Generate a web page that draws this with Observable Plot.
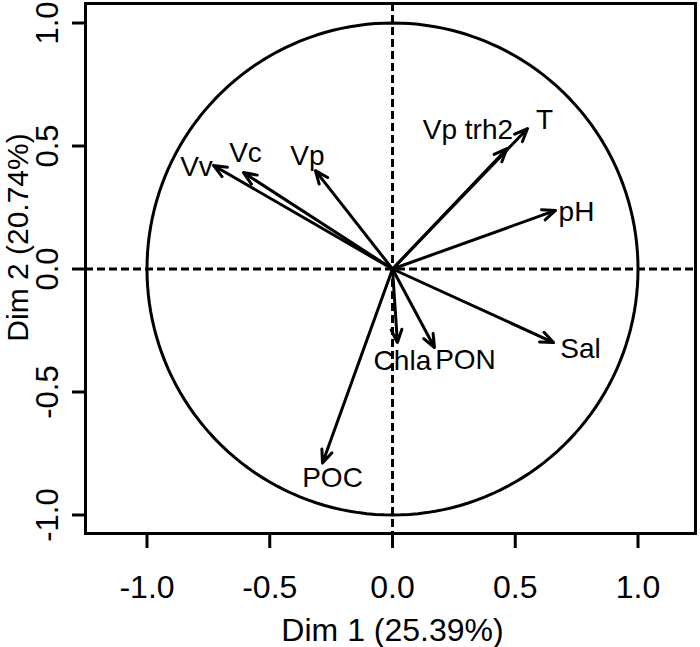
<!DOCTYPE html>
<html><head><meta charset="utf-8">
<script src="https://cdn.jsdelivr.net/npm/d3@7"></script>
<script src="https://cdn.jsdelivr.net/npm/@observablehq/plot@0.6"></script>
<style>html,body{margin:0;padding:0;background:#fff} svg{display:block}</style>
</head><body><div id="chart"></div>
<script>
// ---- data ----
const variables = ["Vv", "Vc", "Vp", "Vp trh2", "T", "pH", "Sal", "PON", "Chla", "POC"];
const dim1 = [-0.729, -0.607, -0.314, 0.466, 0.550, 0.664, 0.656, 0.171, 0.020, -0.285];
const dim2 = [0.421, 0.392, 0.400, 0.489, 0.571, 0.238, -0.299, -0.319, -0.299, -0.789];
const xTicks = [-1, -0.5, 0, 0.5, 1];
const yTicks = [-1, -0.5, 0, 0.5, 1];
const xTitle = "Dim 1 (25.39%)";
const yTitle = "Dim 2 (20.74%)";

// ---- layout: label offsets from arrow tips (px) ----
const labelOffsets = [[-17, 2], [2, -20], [-8, -15], [-39, -19], [17, -9], [21, 2], [27, 6], [31, 13], [5, 18], [10, 15]];

const rows = variables.map((name, i) => ({name, d1: dim1[i], d2: dim2[i], off: labelOffsets[i]}));
const circle = d3.range(0, 361, 2).map(a => ({cx: Math.cos(a * Math.PI / 180), cy: Math.sin(a * Math.PI / 180)}));

const SW = 3;
const labelMarks = rows.map(r => Plot.text([r], {
  x: "d1", y: "d2", text: "name", dx: r.off[0], dy: r.off[1],
  fontSize: 28, textAnchor: "middle", lineAnchor: "middle", fill: "black"
}));

const chart = Plot.plot({
  width: 700,
  height: 647,
  marginLeft: 85,
  marginRight: 5,
  marginTop: 3,
  marginBottom: 114,
  x: {domain: [-1.2505, 1.2342]},
  y: {domain: [-1.0752, 1.0793]},
  style: {fontFamily: "'Liberation Sans', Arial, Helvetica, sans-serif", background: "white", color: "black"},
  marks: [
    Plot.ruleX([0], {strokeDasharray: "8,4", strokeWidth: SW, stroke: "black"}),
    Plot.ruleY([0], {strokeDasharray: "8,4", strokeWidth: SW, stroke: "black"}),
    Plot.line(circle, {x: "cx", y: "cy", stroke: "black", strokeWidth: SW}),
    Plot.arrow(rows, {x1: d => 0, y1: d => 0, x2: "d1", y2: "d2", stroke: "black", strokeWidth: SW, headLength: 7, headAngle: 45}),
    ...labelMarks,
    Plot.frame({stroke: "black", strokeWidth: SW}),
    Plot.axisX({ticks: xTicks, tickSize: 15, tickPadding: 27, fontSize: 32, strokeWidth: SW, tickFormat: d => d.toFixed(1), label: null}),
    Plot.axisY({ticks: yTicks, tickSize: 13, strokeWidth: SW, tickFormat: () => "", label: null}),
    Plot.text(yTicks, {y: d => d, text: d => d.toFixed(1), frameAnchor: "left", dx: -37, rotate: -90, fontSize: 31, textAnchor: "middle", lineAnchor: "middle", fill: "black"}),
    Plot.text([xTitle], {text: d => d, frameAnchor: "bottom", dx: 2, dy: 97, fontSize: 32, textAnchor: "middle", lineAnchor: "middle", fill: "black"}),
    Plot.text([yTitle], {text: d => d, frameAnchor: "left", dx: -67, dy: -31, rotate: -90, fontSize: 30, textAnchor: "middle", lineAnchor: "middle", fill: "black"})
  ]
});
document.getElementById("chart").append(chart);
</script>
</body></html>
